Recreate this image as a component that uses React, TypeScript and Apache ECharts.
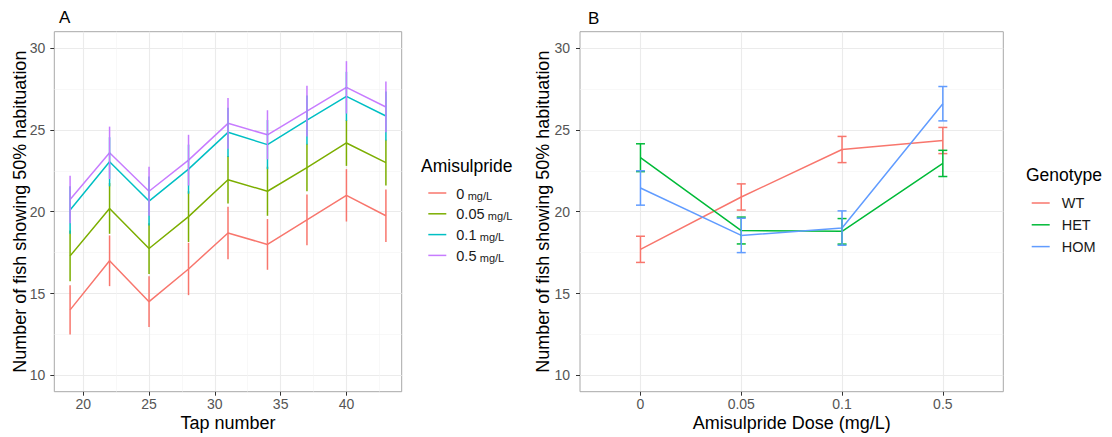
import React, { useEffect, useRef } from "react";
import * as echarts from "echarts";

// ---------- Panel A data ----------
const tapNumbers = [19, 22, 25, 28, 31, 34, 37, 40, 43];
const doseNamesA = ["0", "0.05", "0.1", "0.5"];
const meanDose0 = [14.0, 17.0, 14.5, 16.5, 18.7, 18.0, 19.5, 21.0, 19.75];
const errDose0 = [1.5, 1.55, 1.55, 1.6, 1.6, 1.55, 1.55, 1.6, 1.6];
const meanDose005 = [17.3, 20.2, 17.75, 19.7, 21.95, 21.25, 22.7, 24.2, 23.0];
const errDose005 = [1.55, 1.55, 1.55, 1.55, 1.45, 1.5, 1.45, 1.4, 1.4];
const meanDose01 = [20.1, 23.05, 20.65, 22.6, 24.85, 24.1, 25.6, 27.05, 25.85];
const errDose01 = [1.45, 1.5, 1.5, 1.5, 1.5, 1.5, 1.5, 1.5, 1.5];
const meanDose05 = [20.75, 23.6, 21.25, 23.15, 25.4, 24.7, 26.15, 27.6, 26.4];
const errDose05 = [1.45, 1.6, 1.5, 1.55, 1.55, 1.5, 1.55, 1.6, 1.55];
const xTicksA = [20, 25, 30, 35, 40];
const xMinorA = [22.5, 27.5, 32.5, 37.5, 42.5];

// ---------- Panel B data ----------
const doseCategories = ["0", "0.05", "0.1", "0.5"];
const genotypes = ["WT", "HET", "HOM"];
const meanWT = [17.7, 20.9, 23.8, 24.35];
const errWT = [0.8, 0.8, 0.8, 0.8];
const meanHET = [23.3, 18.85, 18.8, 22.95];
const errHET = [0.85, 0.82, 0.78, 0.8];
const meanHOM = [21.45, 18.55, 19.0, 26.6];
const errHOM = [1.05, 1.05, 1.05, 1.05];

// ---------- shared ----------
const yTicks = [10, 15, 20, 25, 30];
const yMinor = [12.5, 17.5, 22.5, 27.5];

const colorsA = ["#F8766D", "#7CAE00", "#00BFC4", "#C77CFF"];
const colorsB = ["#F8766D", "#00BA38", "#619CFF"];
const FONT = '"Liberation Sans", Arial, Helvetica, sans-serif';

function errSeries(
  name: string,
  xs: number[],
  means: number[],
  errs: number[],
  color: string,
  axisIndex: [number, number],
  capHalf: number
) {
  return {
    type: "custom",
    name,
    xAxisIndex: axisIndex[0],
    yAxisIndex: axisIndex[1],
    silent: true,
    z: 3,
    data: xs.map((x, i) => [x, means[i] - errs[i], means[i] + errs[i]]),
    encode: { x: 0, y: [1, 2] },
    renderItem: (_params: any, api: any) => {
      const x = api.value(0);
      const lo = api.coord([x, api.value(1)]);
      const hi = api.coord([x, api.value(2)]);
      const style = { stroke: color, lineWidth: 1.5, fill: "none" };
      const children: any[] = [
        { type: "line", shape: { x1: lo[0], y1: lo[1], x2: hi[0], y2: hi[1] }, style },
      ];
      if (capHalf > 0) {
        children.push({
          type: "line",
          shape: { x1: lo[0] - capHalf, y1: lo[1], x2: lo[0] + capHalf, y2: lo[1] },
          style,
        });
        children.push({
          type: "line",
          shape: { x1: hi[0] - capHalf, y1: hi[1], x2: hi[0] + capHalf, y2: hi[1] },
          style,
        });
      }
      return { type: "group", children };
    },
  };
}

function lineSeries(name: string, xs: number[], ys: number[], color: string, axisIndex: [number, number]) {
  return {
    type: "line",
    name,
    color,
    xAxisIndex: axisIndex[0],
    yAxisIndex: axisIndex[1],
    data: xs.map((x, i) => [x, ys[i]]),
    showSymbol: false,
    symbol: "none",
    lineStyle: { color, width: 1.5 },
    z: 2,
  };
}

function majorAxis(extra: any, ticks: number[], labelMargin: number, formatter?: (v: number) => string) {
  return {
    type: "value",
    ...extra,
    axisLine: { show: false },
    axisTick: { show: true, length: 4, lineStyle: { color: "#333333", width: 1 }, customValues: ticks },
    axisLabel: {
      customValues: ticks,
      color: "#555555",
      fontSize: 14,
      fontFamily: FONT,
      margin: labelMargin,
      formatter: formatter || ((v: number) => String(v)),
    },
    splitLine: { show: true, lineStyle: { color: "#EBEBEB", width: 1.1 } },
  };
}

function minorAxis(extra: any, ticks: number[]) {
  return {
    type: "value",
    ...extra,
    axisLine: { show: false },
    axisTick: { show: false, customValues: ticks },
    axisLabel: { show: false, customValues: ticks },
    splitLine: { show: true, lineStyle: { color: "#F3F3F3", width: 0.6 } },
  };
}

export default function App() {
  const ref = useRef<HTMLDivElement>(null);

  useEffect(() => {
    if (!ref.current) return;
    const chart = echarts.init(ref.current, undefined, { renderer: "svg" });

    const meansA = [meanDose0, meanDose005, meanDose01, meanDose05];
    const errsA = [errDose0, errDose005, errDose01, errDose05];
    const meansB = [meanWT, meanHET, meanHOM];
    const errsB = [errWT, errHET, errHOM];
    const catPos = doseCategories.map((_, i) => i + 1);

    const series: any[] = [];
    doseNamesA.forEach((n, k) => {
      series.push(lineSeries(n, tapNumbers, meansA[k], colorsA[k], [0, 0]));
    });
    doseNamesA.forEach((n, k) => {
      series.push(errSeries("err " + n, tapNumbers, meansA[k], errsA[k], colorsA[k], [0, 0], 0));
    });
    genotypes.forEach((g, k) => {
      series.push(lineSeries(g, catPos, meansB[k], colorsB[k], [2, 2]));
    });
    genotypes.forEach((g, k) => {
      series.push(errSeries("err " + g, catPos, meansB[k], errsB[k], colorsB[k], [2, 2], 4.5));
    });

    const gridStyle = { show: true, borderColor: "#A8A8A8", borderWidth: 1, backgroundColor: "transparent" };

    const option: any = {
      animation: false,
      textStyle: { fontFamily: FONT },
      grid: [
        { left: 54.3, top: 31.7, width: 347.4, height: 360, ...gridStyle },
        { left: 580, top: 31.7, width: 423.3, height: 360, ...gridStyle },
      ],
      xAxis: [
        majorAxis({ gridIndex: 0, min: 17.8, max: 44.2, position: "bottom" }, xTicksA, 5),
        minorAxis({ gridIndex: 0, min: 17.8, max: 44.2, position: "bottom" }, xMinorA),
        majorAxis({ gridIndex: 1, min: 0.4, max: 4.6, position: "bottom" }, catPos, 5, (v: number) => doseCategories[Math.round(v) - 1] ?? ""),
      ],
      yAxis: [
        majorAxis({ gridIndex: 0, min: 9, max: 31, position: "left" }, yTicks, 9),
        minorAxis({ gridIndex: 0, min: 9, max: 31, position: "left" }, yMinor),
        majorAxis({ gridIndex: 1, min: 9, max: 31, position: "left" }, yTicks, 10),
        minorAxis({ gridIndex: 1, min: 9, max: 31, position: "left" }, yMinor),
      ],
      legend: [
        {
          data: doseNamesA,
          orient: "vertical",
          left: 423.3,
          top: 181,
          icon: "path://M0,0H18V1.5H0Z",
          itemWidth: 18,
          itemHeight: 1.5,
          itemGap: 5.8,
          selectedMode: false,
          formatter: (n: string) => `{n|${n}} {u|mg/L}`,
          textStyle: {
            color: "#1a1a1a",
            fontFamily: FONT,
            rich: {
              n: { fontSize: 14.5, lineHeight: 16, padding: [0, 0, 0, 5], fontFamily: FONT, color: "#1a1a1a", verticalAlign: "bottom" },
              u: { fontSize: 11, lineHeight: 16, fontFamily: FONT, color: "#1a1a1a", verticalAlign: "bottom" },
            },
          },
        },
        {
          data: genotypes,
          orient: "vertical",
          left: 1026.7,
          top: 190,
          icon: "path://M0,0H18V1.5H0Z",
          itemWidth: 18,
          itemHeight: 1.5,
          itemGap: 5.8,
          selectedMode: false,
          textStyle: {
            color: "#1a1a1a",
            fontFamily: FONT,
            fontSize: 14.5,
            lineHeight: 16,
            padding: [0, 0, 0, 7],
          },
        },
      ],
      graphic: [
        { type: "text", left: 59, top: 9, style: { text: "A", font: `17px ${FONT}`, fill: "#000" } },
        { type: "text", left: 588, top: 10, style: { text: "B", font: `17px ${FONT}`, fill: "#000" } },
        {
          type: "text",
          x: 20,
          y: 211.7,
          rotation: Math.PI / 2,
          style: { text: "Number of fish showing 50% habituation", font: `18px ${FONT}`, fill: "#000", align: "center", verticalAlign: "middle" },
        },
        {
          type: "text",
          x: 543,
          y: 211.7,
          rotation: Math.PI / 2,
          style: { text: "Number of fish showing 50% habituation", font: `18px ${FONT}`, fill: "#000", align: "center", verticalAlign: "middle" },
        },
        { type: "text", x: 228, y: 423.3, style: { text: "Tap number", font: `18px ${FONT}`, fill: "#000", align: "center", verticalAlign: "middle" } },
        { type: "text", x: 791.7, y: 423.3, style: { text: "Amisulpride Dose (mg/L)", font: `18px ${FONT}`, fill: "#000", align: "center", verticalAlign: "middle" } },
        { type: "text", x: 421, y: 166, style: { text: "Amisulpride", font: `17.5px ${FONT}`, fill: "#000", align: "left", verticalAlign: "middle" } },
        { type: "text", x: 1026, y: 175, style: { text: "Genotype", font: `17.5px ${FONT}`, fill: "#000", align: "left", verticalAlign: "middle" } },
      ],
      series,
    };

    chart.setOption(option);
    return () => chart.dispose();
  }, []);

  return (
    <div
      ref={ref}
      style={{ position: "fixed", left: 0, top: 0, width: 1112, height: 437, background: "#fff" }}
    />
  );
}
